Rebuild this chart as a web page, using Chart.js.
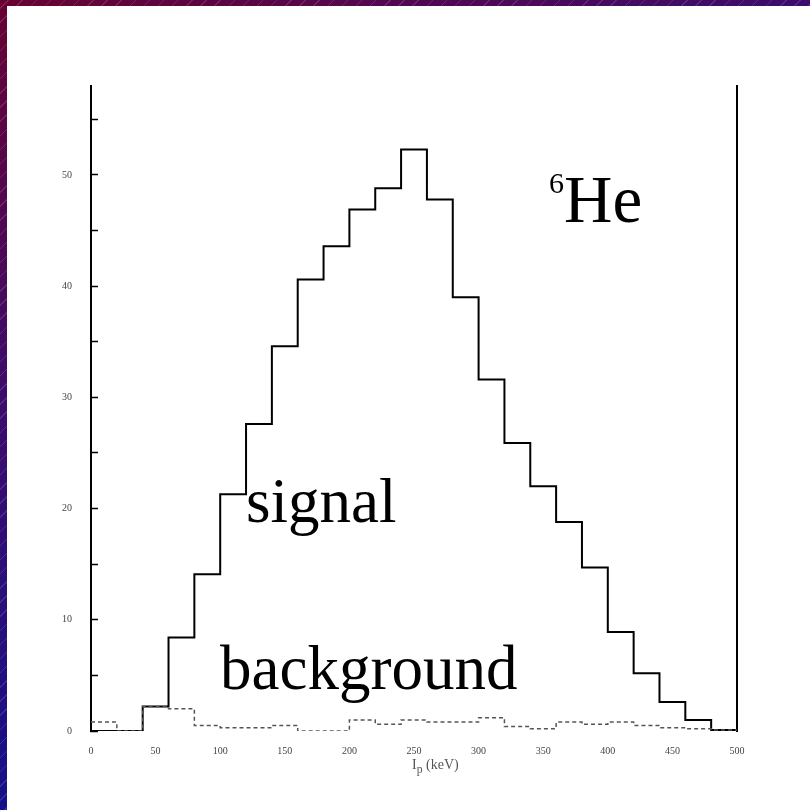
<!DOCTYPE html>
<html>
<head>
<meta charset="utf-8">
<script src="https://cdn.jsdelivr.net/npm/chart.js@4.4.1/dist/chart.umd.min.js"></script>
<style>
html, body { margin: 0; padding: 0; }
body {
  width: 810px; height: 810px; overflow: hidden; position: relative;
  background:
    repeating-linear-gradient(-45deg, rgba(255,255,255,0) 0 9px, rgba(255,255,255,0.13) 9px 10px),
    linear-gradient(153deg, #680232 0%, #3c0c6c 33%, #14108a 67%, #14108a 100%);
}
#panel { position: absolute; left: 7px; top: 6px; right: 0; bottom: 0; background: #fff; }
#c { position: absolute; left: 0; top: 0; }
.lbl { position: absolute; font-family: "Liberation Serif", serif; color: #000; line-height: 1; white-space: nowrap; }
.lbl sup { font-size: 30px; vertical-align: baseline; position: relative; top: -29px; }
</style>
</head>
<body>
<div id="panel"></div>
<canvas id="c" width="810" height="810"></canvas>
<div class="lbl" style="left:549px;top:166px;font-size:67px;"><sup>6</sup>He</div>
<div class="lbl" style="left:246px;top:470px;font-size:63px;">signal</div>
<div class="lbl" style="left:220px;top:637px;font-size:63px;">background</div>
<div class="lbl" style="left:412px;top:758px;font-size:14px;color:#555;">I<sub>p</sub> (keV)</div>
<script>
// bin edges (left edge of each 20-wide bin) and counts
const bin_edges = [0, 20, 40, 60, 80, 100, 120, 140, 160, 180, 200, 220, 240,
  260, 280, 300, 320, 340, 360, 380, 400, 420, 440, 460, 480];
const bin_end = 500;
const signal_counts = [0, 0, 2.2, 8.4, 14.1, 21.3, 27.6, 34.6, 40.6, 43.6, 46.9, 48.8, 52.3,
  47.8, 39.0, 31.6, 25.9, 22.0, 18.8, 14.7, 8.9, 5.2, 2.6, 1.0, 0.1];
const background_counts = [0.8, 0, 2.2, 2.0, 0.5, 0.3, 0.3, 0.5, 0, 0, 1.0, 0.6, 1.0,
  0.8, 0.8, 1.2, 0.4, 0.2, 0.8, 0.6, 0.8, 0.5, 0.3, 0.2, 0.1];
const x_ticks = [0, 50, 100, 150, 200, 250, 300, 350, 400, 450, 500];
const y_max = 58;

// histogram as step line: one point per bin edge plus the closing edge
function toSteps(counts) {
  let pts = bin_edges.map((x, i) => ({ x: x, y: counts[i] }));
  pts.push({ x: bin_end, y: counts[counts.length - 1] });
  return pts;
}

const tickFont = { family: "Liberation Serif", size: 10 };

new Chart(document.getElementById("c").getContext("2d"), {
  type: "line",
  data: {
    datasets: [
      {
        label: "background",
        data: toSteps(background_counts),
        stepped: "before",
        borderColor: "#555",
        borderWidth: 1.5,
        borderDash: [4, 3],
        pointRadius: 0,
        fill: false
      },
      {
        label: "signal",
        data: toSteps(signal_counts),
        stepped: "before",
        borderColor: "#000",
        borderWidth: 2,
        pointRadius: 0,
        fill: false
      }
    ]
  },
  options: {
    responsive: false,
    animation: false,
    layout: { padding: { top: 86, right: 73, bottom: 0, left: 0 } },
    plugins: { legend: { display: false }, tooltip: { enabled: false } },
    scales: {
      x: {
        type: "linear",
        min: 0,
        max: bin_end,
        afterBuildTicks: s => { s.ticks = x_ticks.map(v => ({ value: v })); },
        ticks: { font: tickFont, color: "#444", padding: 6, maxRotation: 0 },
        grid: { display: false },
        border: { display: false },
        afterFit: s => { s.height = 79; }
      },
      y: {
        min: 0,
        max: y_max,
        ticks: {
          stepSize: 5,
          includeBounds: false,
          font: tickFont,
          color: "#444",
          padding: 26,
          callback: v => (v % 10 === 0 ? v : "")
        },
        grid: { display: true, drawOnChartArea: false, tickLength: -7, tickColor: "#000", tickWidth: 1.5 },
        border: { display: true, color: "#000", width: 2 },
        afterFit: s => { s.width = 91; }
      },
      y2: {
        position: "right",
        min: 0,
        max: y_max,
        ticks: { display: false },
        grid: { display: false },
        border: { display: true, color: "#000", width: 2 },
        afterFit: s => { s.width = 0; }
      }
    }
  }
});
</script>
</body>
</html>
